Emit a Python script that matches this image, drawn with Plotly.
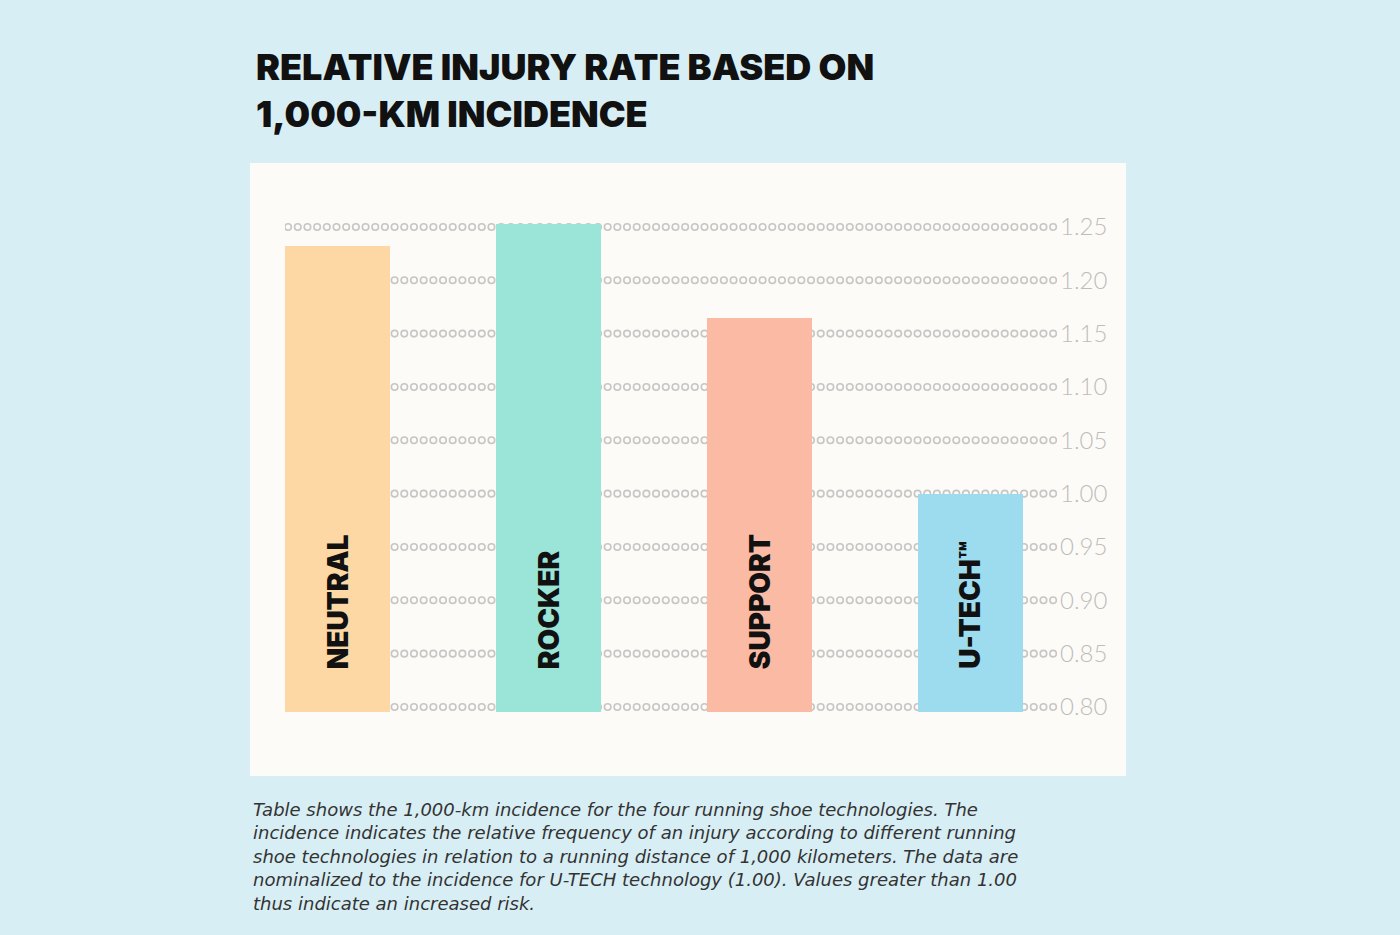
import numpy as np
import plotly.graph_objects as go

categories = ["NEUTRAL", "ROCKER", "SUPPORT", "U-TECH™"]
values = [1.232, 1.253, 1.165, 1.00]
bar_colors = ["#fdd8a5", "#9be4d8", "#fbbaa4", "#9ddcee"]
tick_vals = [0.80, 0.85, 0.90, 0.95, 1.00, 1.05, 1.10, 1.15, 1.20, 1.25]
tick_text = ["0.80", "0.85", "0.90", "0.95", "1.00", "1.05", "1.10", "1.15", "1.20", "1.25"]
title_lines = ["RELATIVE INJURY RATE BASED ON", "1,000-KM INCIDENCE"]
caption_lines = [
    "Table shows the 1,000-km incidence for the four running shoe technologies. The",
    "incidence indicates the relative frequency of an injury according to different running",
    "shoe technologies in relation to a running distance of 1,000 kilometers. The data are",
    "nominalized to the incidence for U-TECH technology (1.00). Values greater than 1.00",
    "thus indicate an increased risk.",
]

W, H = 1400, 935
ML, MR, MT, MB = 285, 343, 215, 223
PW = W - ML - MR
PH = H - MT - MB


def px2x(px):
    return (px - ML) / PW


def px2y(py):
    return (H - MB - py) / PH


fig = go.Figure()

# dotted grid lines (open circles) on the underlying subplot
n_dots = 80
dot_x = np.linspace(0.004, 0.995, n_dots)
for tv in tick_vals:
    fig.add_trace(go.Scatter(
        x=dot_x, y=[tv] * n_dots, mode="markers",
        marker=dict(symbol="circle-open", size=6.5, color="#c6c6c6", line=dict(width=1.6)),
        xaxis="x", yaxis="y", hoverinfo="skip", showlegend=False,
    ))

# bars on the overlaying subplot so they cover the dots
fig.add_trace(go.Bar(
    x=categories, y=values, marker=dict(color=bar_colors, line=dict(width=0)),
    width=0.5, xaxis="x2", yaxis="y", showlegend=False,
))

annotations = []
# bar labels (rotated)
for c in categories:
    annotations.append(dict(
        x=c, y=0.8335, xref="x2", yref="y", text=c, textangle=-90,
        showarrow=False, xanchor="center", yanchor="bottom",
        font=dict(family="Inter", size=28, color="#111111", weight=900),
    ))

# title
annotations.append(dict(
    x=px2x(254), y=px2y(91), xref="paper", yref="paper",
    text="<br>".join(title_lines), showarrow=False, xanchor="left", yanchor="middle",
    align="left",
    font=dict(family="Inter", size=36, color="#111111", weight=900),
))

# caption
annotations.append(dict(
    x=px2x(251), y=px2y(797), xref="paper", yref="paper",
    text="<i>" + "<br>".join(caption_lines) + "</i>", showarrow=False,
    xanchor="left", yanchor="top", align="left",
    font=dict(family="DejaVu Sans", size=18, color="#333333"),
))

fig.update_layout(
    width=W, height=H,
    margin=dict(l=ML, r=MR, t=MT, b=MB, pad=0),
    paper_bgcolor="#d8eef5",
    plot_bgcolor="rgba(0,0,0,0)",
    xaxis=dict(range=[0, 1], visible=False, fixedrange=True),
    xaxis2=dict(overlaying="x", range=[-0.249, 3.41], visible=False, type="category"),
    yaxis=dict(
        range=[0.7953, 1.2612], side="right", showgrid=False, zeroline=False,
        tickvals=tick_vals, ticktext=tick_text, ticks="", ticklabelstandoff=2,
        tickfont=dict(family="Lato", size=24, color="#bdbdbd", weight=300),
        showline=False,
    ),
    shapes=[dict(
        type="rect", xref="paper", yref="paper", layer="below",
        x0=px2x(250), x1=px2x(1126), y0=px2y(776), y1=px2y(163),
        fillcolor="#fdfbf7", line=dict(width=0),
    )],
    annotations=annotations,
    bargap=0,
)

fig.write_html("out.html", config={"displayModeBar": False},
               post_script="document.body.style.margin='0';")
